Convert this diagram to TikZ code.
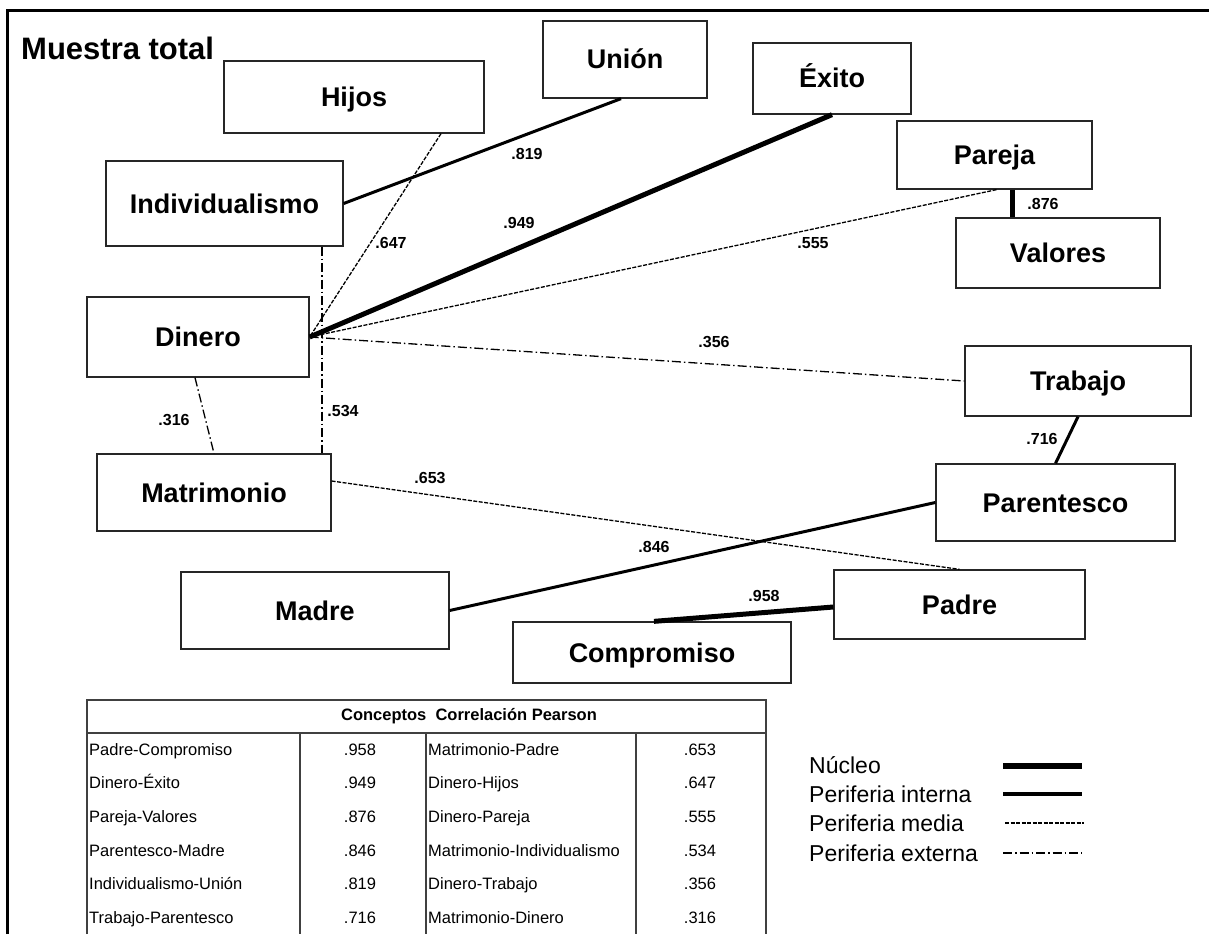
\documentclass[tikz,border=0pt]{standalone}
\usepackage{fontspec}
\setmainfont{Liberation Sans}
\usetikzlibrary{positioning,calc}

\begin{document}
\begin{tikzpicture}[x=1pt,y=-1pt,
  concepto/.style={rectangle,draw=black!85,line width=1.3pt,inner sep=0pt,text height=20pt,text depth=1pt,font=\fontsize{27}{30}\selectfont\bfseries},
  valor/.style={inner sep=0pt,font=\fontsize{16}{18}\selectfont\bfseries},
  nucleo/.style={line width=5pt},
  interna/.style={line width=3pt},
  media/.style={line width=1.3pt,dash pattern=on 4pt off 1.5pt},
  externa/.style={line width=1.3pt,dash pattern=on 9pt off 3pt on 1.5pt off 3pt},
  tabla/.style={draw=black!75,line width=1.5pt},
  celda/.style={inner sep=0pt,text height=12pt,text depth=3.5pt,font=\fontsize{16.5}{18}\selectfont},
  leyenda/.style={inner sep=0pt,anchor=west,text height=17pt,text depth=5pt,font=\fontsize{23}{26}\selectfont}]
\useasboundingbox (0,0) rectangle (1209,934);
\draw[line width=3pt] (7,934) -- (7,11) -- (1209,11);
\node[anchor=west,inner sep=0pt,font=\fontsize{31}{34}\selectfont\bfseries] (titulo) at (21,48) {Muestra total};

% conceptos
\node[concepto,minimum width=164pt,minimum height=77pt] (union) at (625,59.5) {Unión};
\node[concepto,minimum width=260pt,minimum height=72pt] (hijos) at (354,97) {Hijos};
\node[concepto,minimum width=158pt,minimum height=71pt] (exito) at (832,78.5) {Éxito};
\node[concepto,minimum width=195pt,minimum height=68pt] (pareja) at (994.5,155) {Pareja};
\node[concepto,minimum width=204pt,minimum height=70pt] (valores) at (1058,253) {Valores};
\node[concepto,minimum width=237pt,minimum height=85pt] (indiv) at (224.5,203.5) {Individualismo};
\node[concepto,minimum width=222pt,minimum height=80pt] (dinero) at (198,337) {Dinero};
\node[concepto,minimum width=234pt,minimum height=77pt] (matrimonio) at (214,492.5) {Matrimonio};
\node[concepto,minimum width=226pt,minimum height=70pt] (trabajo) at (1078,381) {Trabajo};
\node[concepto,minimum width=239pt,minimum height=77pt] (parentesco) at (1055.5,502.5) {Parentesco};
\node[concepto,minimum width=268pt,minimum height=77pt] (madre) at (315,610.5) {Madre};
\node[concepto,minimum width=251pt,minimum height=69pt] (padre) at (959.5,604.5) {Padre};
\node[concepto,minimum width=278pt,minimum height=61pt] (compromiso) at (652,652.5) {Compromiso};

% relaciones
\draw[interna] (indiv.east) -- ([xshift=-4pt]union.south);
\draw[media] ([xshift=87pt]hijos.south) -- (dinero.east);
\draw[nucleo] (dinero.east) -- (exito.south);
\draw[media] (dinero.east) -- ([xshift=2pt]pareja.south);
\draw[nucleo] ([xshift=18pt]pareja.south) -- ([xshift=18pt]pareja.south |- valores.north);
\draw[externa] (dinero.east) -- (trabajo.west);
\draw[interna] (trabajo.south) -- (parentesco.north);
\draw[externa] ([xshift=-3pt]dinero.south) -- (matrimonio.north);
\draw[externa] ([xshift=97.5pt]indiv.south) -- ([xshift=97.5pt]indiv.south |- matrimonio.north);
\draw[media] ([yshift=11.5pt]matrimonio.east) -- (padre.north);
\draw[interna] (madre.east) -- (parentesco.west);
\draw[nucleo] ([xshift=2pt]compromiso.north) -- ([yshift=-2.5pt]padre.west);

\node[valor] (v819) at (527,154) {.819};
\node[valor] (v647) at (391,243) {.647};
\node[valor] (v949) at (519,223) {.949};
\node[valor] (v555) at (813,243) {.555};
\node[valor] (v876) at (1043,204) {.876};
\node[valor] (v356) at (714,342) {.356};
\node[valor] (v716) at (1042,439) {.716};
\node[valor] (v316) at (174,420) {.316};
\node[valor] (v534) at (343,411) {.534};
\node[valor] (v653) at (430,478) {.653};
\node[valor] (v846) at (654,547) {.846};
\node[valor] (v958) at (764,596) {.958};

% tabla
\draw[tabla] (87,934) -- (87,700) -- (766,700) -- (766,934);
\draw[tabla] (87,733) -- (766,733);
\draw[tabla] (300,733) -- (300,934);
\draw[tabla,line width=2.5pt] (426,733) -- (426,934);
\draw[tabla] (636,733) -- (636,934);
\node[celda,font=\fontsize{16.5}{18}\selectfont\bfseries] (encabezado) at (469,716) {Conceptos\ \ Correlación Pearson};
\node[celda,anchor=west] (a1) at (89,751) {Padre-Compromiso}; \node[celda] (b1) at (360,751) {.958};
\node[celda,anchor=west] (c1) at (428,751) {Matrimonio-Padre}; \node[celda] (d1) at (700,751) {.653};
\node[celda,anchor=west] (a2) at (89,784) {Dinero-Éxito}; \node[celda] (b2) at (360,784) {.949};
\node[celda,anchor=west] (c2) at (428,784) {Dinero-Hijos}; \node[celda] (d2) at (700,784) {.647};
\node[celda,anchor=west] (a3) at (89,818) {Pareja-Valores}; \node[celda] (b3) at (360,818) {.876};
\node[celda,anchor=west] (c3) at (428,818) {Dinero-Pareja}; \node[celda] (d3) at (700,818) {.555};
\node[celda,anchor=west] (a4) at (89,852) {Parentesco-Madre}; \node[celda] (b4) at (360,852) {.846};
\node[celda,anchor=west] (c4) at (428,852) {Matrimonio-Individualismo}; \node[celda] (d4) at (700,852) {.534};
\node[celda,anchor=west] (a5) at (89,885) {Individualismo-Unión}; \node[celda] (b5) at (360,885) {.819};
\node[celda,anchor=west] (c5) at (428,885) {Dinero-Trabajo}; \node[celda] (d5) at (700,885) {.356};
\node[celda,anchor=west] (a6) at (89,919) {Trabajo-Parentesco}; \node[celda] (b6) at (360,919) {.716};
\node[celda,anchor=west] (c6) at (428,919) {Matrimonio-Dinero}; \node[celda] (d6) at (700,919) {.316};

% leyenda
\node[leyenda] (lnucleo) at (809,767) {Núcleo};
\node[leyenda] (linterna) at (809,796) {Periferia interna};
\node[leyenda] (lmedia) at (809,825) {Periferia media};
\node[leyenda] (lexterna) at (809,855) {Periferia externa};
\draw[nucleo,line width=6pt] (1003,766) -- ++(79,0);
\draw[interna,line width=3.5pt] (1003,794) -- ++(79,0);
\draw[media,line width=1.5pt] (1005,823) -- ++(79,0);
\draw[externa] (1003,853) -- ++(79,0);
\end{tikzpicture}
\end{document}
